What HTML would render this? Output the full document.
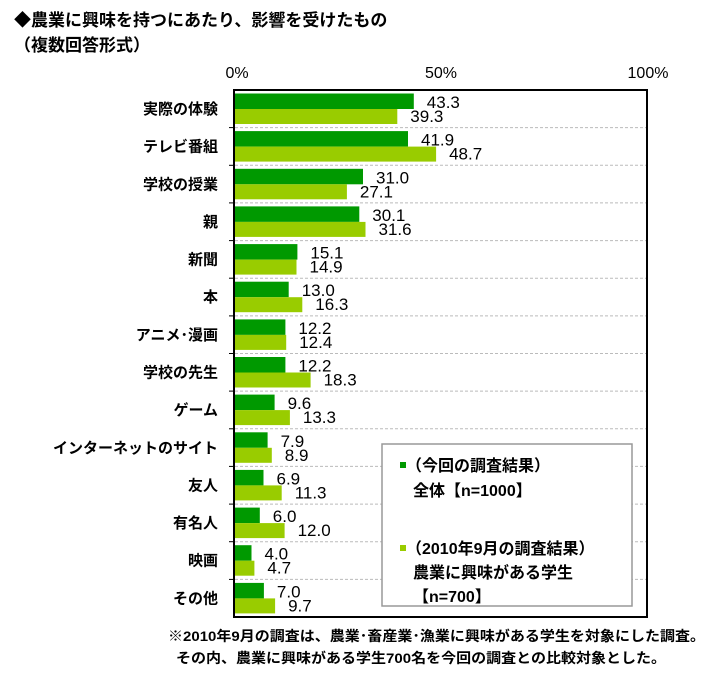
<!DOCTYPE html>
<html><head><meta charset="utf-8"><style>
body{margin:0;background:#fff;}
svg{display:block;font-family:"Liberation Sans","Noto Sans CJK JP",sans-serif;}
</style></head><body>
<svg width="713" height="682" viewBox="0 0 713 682" xmlns="http://www.w3.org/2000/svg">
<defs>
<g id="sep"><line x1="235" x2="646" y1="0" y2="0" stroke="#bbb" stroke-dasharray="3,2"/><line x1="229" x2="235" y1="0" y2="0" stroke="#000"/></g>
</defs>
<text x="14" y="26" font-size="17" font-weight="bold" fill="#000">◆農業に興味を持つにあたり、影響を受けたもの</text>
<text x="14" y="51" font-size="17" font-weight="bold" fill="#000">（複数回答形式）</text>
<g font-size="16" fill="#000" text-anchor="middle">
<text x="237" y="78">0%</text><text x="441" y="78">50%</text><text x="648" y="78">100%</text>
</g>

<g font-size="17" fill="#000">
<g transform="translate(0,90)">
<rect x="235" y="3.5" width="178.8" height="15.5" fill="#009900"/><rect x="235" y="19" width="162.3" height="15" fill="#99cc00"/>
<text x="426.8" y="18">43.3</text><text x="410.3" y="32">39.3</text>
<text x="218" y="24" font-size="15" font-weight="bold" text-anchor="end">実際の体験</text></g>
<g transform="translate(0,127.6)"><use href="#sep"/>
<rect x="235" y="3.5" width="173.0" height="15.5" fill="#009900"/><rect x="235" y="19" width="201.1" height="15" fill="#99cc00"/>
<text x="421" y="18">41.9</text><text x="449.1" y="32">48.7</text>
<text x="218" y="24" font-size="15" font-weight="bold" text-anchor="end">テレビ番組</text></g>
<g transform="translate(0,165.3)"><use href="#sep"/>
<rect x="235" y="3.5" width="128.0" height="15.5" fill="#009900"/><rect x="235" y="19" width="111.9" height="15" fill="#99cc00"/>
<text x="376" y="18">31.0</text><text x="359.9" y="32">27.1</text>
<text x="218" y="24" font-size="15" font-weight="bold" text-anchor="end">学校の授業</text></g>
<g transform="translate(0,202.9)"><use href="#sep"/>
<rect x="235" y="3.5" width="124.3" height="15.5" fill="#009900"/><rect x="235" y="19" width="130.5" height="15" fill="#99cc00"/>
<text x="372.3" y="18">30.1</text><text x="378.5" y="32">31.6</text>
<text x="218" y="24" font-size="15" font-weight="bold" text-anchor="end">親</text></g>
<g transform="translate(0,240.6)"><use href="#sep"/>
<rect x="235" y="3.5" width="62.4" height="15.5" fill="#009900"/><rect x="235" y="19" width="61.5" height="15" fill="#99cc00"/>
<text x="310.4" y="18">15.1</text><text x="309.5" y="32">14.9</text>
<text x="218" y="24" font-size="15" font-weight="bold" text-anchor="end">新聞</text></g>
<g transform="translate(0,278.2)"><use href="#sep"/>
<rect x="235" y="3.5" width="53.7" height="15.5" fill="#009900"/><rect x="235" y="19" width="67.3" height="15" fill="#99cc00"/>
<text x="301.7" y="18">13.0</text><text x="315.3" y="32">16.3</text>
<text x="218" y="24" font-size="15" font-weight="bold" text-anchor="end">本</text></g>
<g transform="translate(0,315.9)"><use href="#sep"/>
<rect x="235" y="3.5" width="50.4" height="15.5" fill="#009900"/><rect x="235" y="19" width="51.2" height="15" fill="#99cc00"/>
<text x="298.4" y="18">12.2</text><text x="299.2" y="32">12.4</text>
<text x="218" y="24" font-size="15" font-weight="bold" text-anchor="end">アニメ･漫画</text></g>
<g transform="translate(0,353.5)"><use href="#sep"/>
<rect x="235" y="3.5" width="50.4" height="15.5" fill="#009900"/><rect x="235" y="19" width="75.6" height="15" fill="#99cc00"/>
<text x="298.4" y="18">12.2</text><text x="323.6" y="32">18.3</text>
<text x="218" y="24" font-size="15" font-weight="bold" text-anchor="end">学校の先生</text></g>
<g transform="translate(0,391.1)"><use href="#sep"/>
<rect x="235" y="3.5" width="39.6" height="15.5" fill="#009900"/><rect x="235" y="19" width="54.9" height="15" fill="#99cc00"/>
<text x="287.6" y="18">9.6</text><text x="302.9" y="32">13.3</text>
<text x="218" y="24" font-size="15" font-weight="bold" text-anchor="end">ゲーム</text></g>
<g transform="translate(0,428.8)"><use href="#sep"/>
<rect x="235" y="3.5" width="32.6" height="15.5" fill="#009900"/><rect x="235" y="19" width="36.8" height="15" fill="#99cc00"/>
<text x="280.6" y="18">7.9</text><text x="284.8" y="32">8.9</text>
<text x="218" y="24" font-size="15" font-weight="bold" text-anchor="end">インターネットのサイト</text></g>
<g transform="translate(0,466.4)"><use href="#sep"/>
<rect x="235" y="3.5" width="28.5" height="15.5" fill="#009900"/><rect x="235" y="19" width="46.7" height="15" fill="#99cc00"/>
<text x="276.5" y="18">6.9</text><text x="294.7" y="32">11.3</text>
<text x="218" y="24" font-size="15" font-weight="bold" text-anchor="end">友人</text></g>
<g transform="translate(0,504.1)"><use href="#sep"/>
<rect x="235" y="3.5" width="24.8" height="15.5" fill="#009900"/><rect x="235" y="19" width="49.6" height="15" fill="#99cc00"/>
<text x="272.8" y="18">6.0</text><text x="297.6" y="32">12.0</text>
<text x="218" y="24" font-size="15" font-weight="bold" text-anchor="end">有名人</text></g>
<g transform="translate(0,541.7)"><use href="#sep"/>
<rect x="235" y="3.5" width="16.5" height="15.5" fill="#009900"/><rect x="235" y="19" width="19.4" height="15" fill="#99cc00"/>
<text x="264.5" y="18">4.0</text><text x="267.4" y="32">4.7</text>
<text x="218" y="24" font-size="15" font-weight="bold" text-anchor="end">映画</text></g>
<g transform="translate(0,579.4)"><use href="#sep"/>
<rect x="235" y="3.5" width="28.9" height="15.5" fill="#009900"/><rect x="235" y="19" width="40.1" height="15" fill="#99cc00"/>
<text x="276.9" y="18">7.0</text><text x="288.1" y="32">9.7</text>
<text x="218" y="24" font-size="15" font-weight="bold" text-anchor="end">その他</text></g>
</g>

<rect x="234" y="90" width="413" height="527" fill="none" stroke="#000" stroke-width="2"/>
<rect x="382" y="444" width="250" height="162" fill="#fff" stroke="#999" stroke-width="1.5"/>
<g font-size="16" font-weight="bold" fill="#000">
<rect x="400" y="462" width="6" height="6" fill="#009900"/>
<text x="406" y="471">（今回の調査結果）</text>
<text x="413" y="496">全体【n=1000】</text>
<rect x="400" y="545" width="6" height="6" fill="#99cc00"/>
<text x="406" y="554">（2010年9月の調査結果）</text>
<text x="413" y="578">農業に興味がある学生</text>
<text x="413" y="602">【n=700】</text>
</g>
<g font-size="14" font-weight="bold" fill="#000">
<text x="168" y="641" textLength="537" lengthAdjust="spacingAndGlyphs">※2010年9月の調査は、農業･畜産業･漁業に興味がある学生を対象にした調査。</text>
<text x="176" y="663" textLength="490" lengthAdjust="spacingAndGlyphs">その内、農業に興味がある学生700名を今回の調査との比較対象とした。</text>
</g>
</svg>
</body></html>
